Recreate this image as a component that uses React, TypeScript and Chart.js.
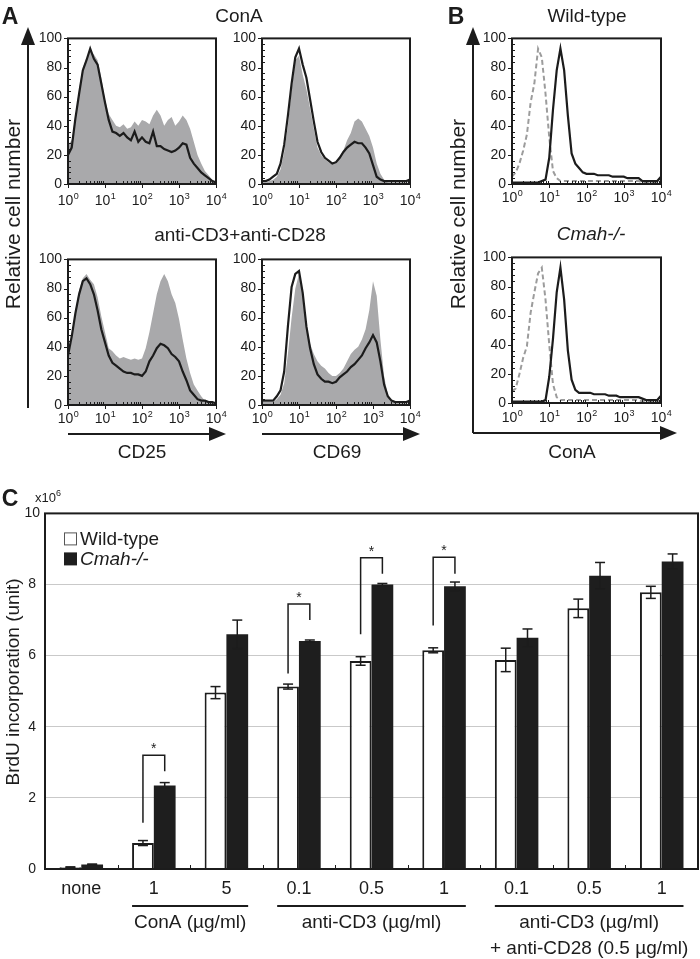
import React, { useEffect, useRef } from 'react';
import { Chart, registerables } from 'chart.js';

Chart.register(...registerables);

const FONT = '"Liberation Sans", Arial, Helvetica, sans-serif';
const INK = '#1c1c1c';
const GRAY_FILL = '#a9a9ab';
const GRAY_DASH = '#9c9c9c';

// ---------- Histogram data (x = log10 fluorescence, 0.1-decade bins) ----------
const LOG_BINS = [0, 0.1, 0.2, 0.3, 0.4, 0.5, 0.6, 0.7, 0.8, 0.9, 1, 1.1, 1.2, 1.3, 1.4, 1.5, 1.6, 1.7, 1.8, 1.9, 2, 2.1, 2.2, 2.3, 2.4, 2.5, 2.6, 2.7, 2.8, 2.9, 3, 3.1, 3.2, 3.3, 3.4, 3.5, 3.6, 3.7, 3.8, 3.9, 4];
const DECADE_TICKS = [0, 1, 2, 3, 4];
const DECADE_EXP = ['0', '1', '2', '3', '4'];
const HIST_Y_TICKS = [0, 20, 40, 60, 80, 100];

// Panel A, ConA, CD25
const A_CONA_CD25_WT = [27, 30, 47, 65, 80, 86, 92, 89, 85, 73, 58, 48, 44, 40, 39, 41, 38, 39, 43, 40, 44, 43, 41, 47, 51, 47, 40, 44, 46, 40, 43, 47, 44, 38, 29, 20, 14, 9, 6, 3, 1];
const A_CONA_CD25_KO = [20, 25, 45, 62, 78, 85, 93, 86, 82, 69, 56, 44, 36, 35, 33, 35, 32, 30, 36, 29, 32, 29, 28, 36, 26, 26, 24, 23, 22, 23, 25, 28, 27, 18, 14, 11, 8, 6, 4, 2, 1];
// Panel A, ConA, CD69
const A_CONA_CD69_WT = [1, 1, 2, 3, 5, 10, 22, 40, 65, 85, 88, 75, 65, 52, 38, 25, 20, 17, 15, 14, 15, 19, 23, 30, 35, 43, 45, 43, 38, 33, 25, 14, 7, 3, 1, 1, 1, 1, 1, 1, 1];
const A_CONA_CD69_KO = [2, 2, 3, 5, 7, 14, 27, 47, 69, 87, 93, 82, 73, 58, 43, 29, 22, 18, 16, 14, 15, 18, 22, 25, 27, 29, 28, 28, 25, 21, 13, 5, 3, 2, 2, 2, 2, 2, 2, 2, 3];
// Panel A, anti-CD3+anti-CD28, CD25
const A_CD3_CD25_WT = [32, 45, 65, 79, 87, 90, 86, 83, 74, 61, 50, 39, 37, 34, 32, 33, 32, 31, 32, 31, 32, 39, 50, 63, 76, 85, 90, 85, 76, 70, 59, 45, 32, 22, 14, 10, 6, 3, 2, 2, 1];
const A_CD3_CD25_KO = [34, 47, 63, 76, 85, 87, 83, 76, 65, 52, 43, 34, 29, 27, 25, 23, 22, 22, 21, 21, 20, 23, 30, 34, 39, 42, 41, 39, 35, 33, 30, 23, 17, 10, 7, 4, 3, 3, 2, 2, 1];
// Panel A, anti-CD3+anti-CD28, CD69
const A_CD3_CD69_WT = [2, 2, 2, 2, 4, 7, 15, 35, 60, 80, 90, 75, 55, 42, 35, 30, 27, 25, 22, 20, 20, 22, 25, 30, 35, 38, 40, 45, 52, 65, 85, 75, 45, 20, 7, 3, 1, 1, 1, 1, 1];
const A_CD3_CD69_KO = [3, 3, 3, 3, 6, 10, 23, 54, 81, 90, 92, 77, 54, 39, 28, 21, 18, 16, 16, 15, 16, 19, 21, 23, 26, 28, 31, 34, 39, 43, 48, 43, 30, 14, 6, 3, 2, 2, 2, 2, 3];
// Panel B, ConA binding
const B_WT_CTRL = [5, 8, 14, 23, 34, 56, 69, 93, 87, 62, 32, 9, 4, 2, 2, 2, 2, 2, 2, 2, 2, 2, 2, 2, 2, 2, 2, 2, 2, 2, 2, 2, 2, 2, 2, 1, 1, 1, 1, 1, 1];
const B_WT_CONA = [1, 1, 1, 1, 1, 1, 1, 1, 2, 3, 18, 51, 78, 93, 78, 47, 21, 14, 11, 8, 7, 7, 7, 6, 6, 6, 6, 5, 5, 5, 5, 4, 4, 4, 4, 2, 2, 2, 2, 2, 5];
const B_KO_CTRL = [8, 10, 20, 31, 39, 62, 76, 89, 93, 71, 40, 13, 4, 2, 2, 2, 2, 2, 2, 2, 2, 2, 2, 2, 2, 2, 2, 2, 2, 2, 2, 2, 2, 2, 2, 1, 1, 1, 1, 1, 1];
const B_KO_CONA = [1, 1, 1, 1, 1, 1, 1, 1, 1, 2, 18, 44, 76, 93, 71, 36, 16, 9, 7, 7, 7, 7, 6, 6, 6, 6, 5, 5, 5, 4, 4, 4, 4, 4, 4, 3, 2, 2, 2, 2, 5];

// ---------- Bar chart data (panel C) ----------
const CATEGORIES = ['none', '1', '5', '0.1', '0.5', '1', '0.1', '0.5', '1'];
const WT_VALUES = [0.05, 0.73, 4.96, 5.13, 5.85, 6.15, 5.88, 7.33, 7.78];
const WT_ERRORS = [0.01, 0.07, 0.17, 0.07, 0.12, 0.07, 0.33, 0.26, 0.17];
const KO_VALUES = [0.13, 2.35, 6.6, 6.41, 8.0, 7.95, 6.5, 8.25, 8.65];
const KO_ERRORS = [0.01, 0.08, 0.4, 0.03, 0.03, 0.12, 0.25, 0.37, 0.21];
const C_Y_TICKS = [0, 2, 4, 6, 8, 10];
// significance brackets: category index, left foot, top, right foot (data units)
const SIG_INDEX = [1, 3, 4, 5];
const SIG_LEFT = [1.3, 5.5, 6.6, 6.85];
const SIG_TOP = [3.2, 7.45, 8.75, 8.77];
const SIG_RIGHT = [2.75, 7.0, 8.3, 8.3];
const GROUP_LABELS = [['ConA (µg/ml)'], ['anti-CD3 (µg/ml)'], ['anti-CD3 (µg/ml)', '+ anti-CD28 (0.5 µg/ml)']];
const GROUP_FROM = [1, 3, 6];
const GROUP_TO = [2, 5, 8];

// ---------- layout ----------
const AX_W = 48;
const PAD_T = 10;
const PAD_R = 16;
const AX_H = 32;

type Panel = { left: number; top: number; w: number; h: number; line: number[]; back: number[]; dashed: boolean; labelDy: number };
const PANELS: Panel[] = [
  { left: 68, top: 34, w: 148, h: 150, line: A_CONA_CD25_KO, back: A_CONA_CD25_WT, dashed: false, labelDy: 21 },
  { left: 262, top: 34, w: 148, h: 150, line: A_CONA_CD69_KO, back: A_CONA_CD69_WT, dashed: false, labelDy: 21 },
  { left: 68, top: 255, w: 148, h: 150, line: A_CD3_CD25_KO, back: A_CD3_CD25_WT, dashed: false, labelDy: 18 },
  { left: 262, top: 255, w: 148, h: 150, line: A_CD3_CD69_KO, back: A_CD3_CD69_WT, dashed: false, labelDy: 18 },
  { left: 512, top: 34, w: 149, h: 150, line: B_WT_CONA, back: B_WT_CTRL, dashed: true, labelDy: 18 },
  { left: 512, top: 253, w: 149, h: 150, line: B_KO_CONA, back: B_KO_CTRL, dashed: true, labelDy: 19 },
];

const C_BOX = { left: 0, top: 500, w: 700, h: 459 };

function seg(ctx: CanvasRenderingContext2D, x1: number, y1: number, x2: number, y2: number) {
  ctx.beginPath();
  ctx.moveTo(x1, y1);
  ctx.lineTo(x2, y2);
  ctx.stroke();
}

const histFrame = {
  id: 'histFrame',
  afterDraw(chart: any, _args: any, opts: any) {
    const { ctx, chartArea: a, scales } = chart;
    const x = scales.x, y = scales.y;
    ctx.save();
    ctx.strokeStyle = INK;
    ctx.lineWidth = 2;
    ctx.strokeRect(a.left, a.top, a.right - a.left, a.bottom - a.top);
    ctx.lineWidth = 1;
    HIST_Y_TICKS.forEach((v) => {
      const py = Math.round(y.getPixelForValue(v)) + 0.5;
      seg(ctx, a.left - 4, py, a.left, py);
    });
    for (let v = 0; v <= 100; v += 4) {
      if (v % 20 === 0) continue;
      const py = Math.round(y.getPixelForValue(v)) + 0.5;
      seg(ctx, a.left, py, a.left + 3, py);
    }
    DECADE_TICKS.forEach((d) => {
      const px = Math.round(x.getPixelForValue(d)) + 0.5;
      seg(ctx, px, a.bottom, px, a.bottom + 4);
    });
    for (let d = 0; d < 4; d++) {
      for (let k = 2; k <= 9; k++) {
        const px = Math.round(x.getPixelForValue(d + Math.log10(k))) + 0.5;
        seg(ctx, px, a.bottom, px, a.bottom - 3);
      }
    }
    ctx.fillStyle = INK;
    ctx.textBaseline = 'alphabetic';
    ctx.textAlign = 'left';
    DECADE_TICKS.forEach((d, i) => {
      const px = x.getPixelForValue(d);
      ctx.font = `14px ${FONT}`;
      const wb = ctx.measureText('10').width;
      ctx.font = `9px ${FONT}`;
      const we = ctx.measureText(DECADE_EXP[i]).width;
      const sx = px - (wb + we) / 2;
      const by = a.bottom + opts.labelDy;
      ctx.font = `14px ${FONT}`;
      ctx.fillText('10', sx, by);
      ctx.font = `9px ${FONT}`;
      ctx.fillText(DECADE_EXP[i], sx + wb + 0.5, by - 6);
    });
    ctx.restore();
  },
};

function histChart(canvas: HTMLCanvasElement, p: Panel) {
  const pts = (arr: number[]) => arr.map((v, i) => ({ x: LOG_BINS[i], y: v }));
  const datasets: any[] = [
    { data: pts(p.line), borderColor: INK, borderWidth: 2.2, fill: false, order: 0, pointRadius: 0 },
  ];
  if (p.dashed) {
    datasets.push({ data: pts(p.back), borderColor: GRAY_DASH, borderWidth: 2, borderDash: [5, 3], fill: false, order: 1, pointRadius: 0 });
  } else {
    datasets.push({ data: pts(p.back), borderWidth: 0, borderColor: 'rgba(0,0,0,0)', backgroundColor: GRAY_FILL, fill: 'origin', order: 1, pointRadius: 0 });
  }
  return new Chart(canvas, {
    type: 'line',
    data: { datasets },
    options: {
      responsive: false,
      maintainAspectRatio: false,
      animation: false,
      devicePixelRatio: 1,
      layout: { padding: { top: PAD_T, right: PAD_R, left: 0, bottom: 0 } },
      elements: { line: { tension: 0 }, point: { radius: 0 } },
      plugins: { legend: { display: false }, tooltip: { enabled: false }, histFrame: { labelDy: p.labelDy } } as any,
      scales: {
        x: {
          type: 'linear', min: 0, max: 4,
          grid: { display: false, drawTicks: false },
          border: { display: false },
          ticks: { display: false },
          afterFit: (s: any) => { s.height = AX_H; },
        },
        y: {
          type: 'linear', min: 0, max: 100,
          grid: { display: false, drawTicks: false },
          border: { display: false },
          ticks: { stepSize: 20, color: INK, padding: 6, font: { family: FONT, size: 14 } },
          afterFit: (s: any) => { s.width = AX_W; },
        },
      },
    } as any,
    plugins: [histFrame],
  });
}

const barDecor = {
  id: 'barDecor',
  afterDatasetsDraw(chart: any) {
    const { ctx, scales } = chart;
    const y = scales.y;
    const m0 = chart.getDatasetMeta(0);
    const m1 = chart.getDatasetMeta(1);
    ctx.save();
    ctx.strokeStyle = INK;
    ctx.lineWidth = 1.5;
    const err = (bx: number, v: number, e: number) => {
      const t = y.getPixelForValue(v + e);
      const b = y.getPixelForValue(v - e);
      seg(ctx, bx, t, bx, b);
      seg(ctx, bx - 5, t, bx + 5, t);
      seg(ctx, bx - 5, b, bx + 5, b);
    };
    WT_VALUES.forEach((v, i) => err(m0.data[i].x, v, WT_ERRORS[i]));
    KO_VALUES.forEach((v, i) => err(m1.data[i].x, v, KO_ERRORS[i]));
    ctx.restore();
  },
  afterDraw(chart: any) {
    const { ctx, chartArea: a, scales } = chart;
    const x = scales.x, y = scales.y;
    const m0 = chart.getDatasetMeta(0);
    const m1 = chart.getDatasetMeta(1);
    ctx.save();
    ctx.strokeStyle = INK;
    ctx.fillStyle = INK;
    // frame
    ctx.lineWidth = 2;
    ctx.strokeRect(a.left, a.top, a.right - a.left, a.bottom - a.top);
    // inner ticks at category boundaries
    ctx.lineWidth = 1;
    for (let i = 1; i < CATEGORIES.length; i++) {
      const bx = Math.round((x.getPixelForValue(i - 1) + x.getPixelForValue(i)) / 2) + 0.5;
      seg(ctx, bx, a.bottom, bx, a.bottom - 4);
    }
    // significance brackets
    ctx.lineWidth = 1.5;
    SIG_INDEX.forEach((ci, k) => {
      const lx = m0.data[ci].x;
      const rx = m1.data[ci].x;
      const ty = y.getPixelForValue(SIG_TOP[k]);
      ctx.beginPath();
      ctx.moveTo(lx, y.getPixelForValue(SIG_LEFT[k]));
      ctx.lineTo(lx, ty);
      ctx.lineTo(rx, ty);
      ctx.lineTo(rx, y.getPixelForValue(SIG_RIGHT[k]));
      ctx.stroke();
      ctx.font = `14px ${FONT}`;
      ctx.textAlign = 'center';
      ctx.textBaseline = 'middle';
      ctx.fillText('*', (lx + rx) / 2, ty - 6);
    });
    // legend
    const lx = a.left + 19;
    ctx.lineWidth = 1;
    ctx.fillStyle = '#fff';
    ctx.fillRect(lx, a.top + 19, 13, 13);
    ctx.strokeStyle = '#555';
    ctx.strokeRect(lx + 0.5, a.top + 19.5, 12, 12);
    ctx.fillStyle = '#1e1e1e';
    ctx.fillRect(lx, a.top + 39, 13, 13);
    ctx.fillStyle = INK;
    ctx.textAlign = 'left';
    ctx.textBaseline = 'middle';
    ctx.font = `19px ${FONT}`;
    ctx.fillText('Wild-type', lx + 16, a.top + 26);
    ctx.font = `italic 19px ${FONT}`;
    ctx.fillText('Cmah-/-', lx + 16, a.top + 46);
    // group lines and labels
    ctx.strokeStyle = INK;
    ctx.lineWidth = 2;
    ctx.font = `19px ${FONT}`;
    ctx.textAlign = 'center';
    GROUP_LABELS.forEach((lines, g) => {
      const first = m0.data[GROUP_FROM[g]];
      const last = m1.data[GROUP_TO[g]];
      const x1 = first.x - first.width / 2;
      const x2 = last.x + last.width / 2;
      seg(ctx, x1, a.bottom + 37, x2, a.bottom + 37);
      lines.forEach((t, j) => ctx.fillText(t, (x1 + x2) / 2, a.bottom + 54 + j * 26));
    });
    ctx.restore();
  },
};

function barChart(canvas: HTMLCanvasElement) {
  return new Chart(canvas, {
    type: 'bar',
    data: {
      labels: CATEGORIES,
      datasets: [
        { label: 'Wild-type', data: WT_VALUES, backgroundColor: '#ffffff', borderColor: INK, borderWidth: 2, categoryPercentage: 0.6, barPercentage: 1 },
        { label: 'Cmah-/-', data: KO_VALUES, backgroundColor: '#1e1e1e', borderColor: '#1e1e1e', borderWidth: 0, categoryPercentage: 0.6, barPercentage: 1 },
      ],
    },
    options: {
      responsive: false,
      maintainAspectRatio: false,
      animation: false,
      devicePixelRatio: 1,
      layout: { padding: { top: 12, right: 2, left: 0, bottom: 0 } },
      plugins: { legend: { display: false }, tooltip: { enabled: false } },
      scales: {
        x: {
          grid: { display: false, drawTicks: false },
          border: { display: false },
          ticks: { color: INK, padding: 9, font: { family: FONT, size: 18 }, autoSkip: false, maxRotation: 0 },
          afterFit: (s: any) => { s.height = 90; },
        },
        y: {
          min: 0, max: 10,
          afterBuildTicks: (s: any) => { s.ticks = C_Y_TICKS.map((v) => ({ value: v })); },
          grid: { color: '#c9c9c9', lineWidth: 1, drawTicks: false },
          border: { display: false },
          ticks: { color: INK, padding: 5, crossAlign: 'center', font: { family: FONT, size: 14 } },
          afterFit: (s: any) => { s.width = 45; },
        },
      },
    } as any,
    plugins: [barDecor],
  });
}

const Txt = ({ x, y, size = 19, bold = false, italic = false, rot = false, children }: any) => (
  <div
    style={{
      position: 'absolute', left: x, top: y,
      transform: `translate(-50%, -50%)${rot ? ' rotate(-90deg)' : ''}`,
      fontSize: size, fontWeight: bold ? 700 : 400, fontStyle: italic ? 'italic' : 'normal',
      whiteSpace: 'nowrap', lineHeight: 1, color: INK,
    }}
  >
    {children}
  </div>
);

export default function App() {
  const histRefs = useRef<(HTMLCanvasElement | null)[]>([]);
  const barRef = useRef<HTMLCanvasElement | null>(null);

  useEffect(() => {
    const charts: Chart[] = [];
    PANELS.forEach((p, i) => {
      const c = histRefs.current[i];
      if (c) charts.push(histChart(c, p));
    });
    if (barRef.current) charts.push(barChart(barRef.current));
    return () => charts.forEach((c) => c.destroy());
  }, []);

  return (
    <div style={{ position: 'absolute', left: 0, top: 0, width: 700, height: 959, background: '#fff', overflow: 'hidden', fontFamily: FONT }}>
      {PANELS.map((p, i) => {
        const w = AX_W + p.w + PAD_R;
        const h = PAD_T + p.h + AX_H;
        return (
          <canvas
            key={i}
            ref={(el) => { histRefs.current[i] = el; }}
            width={w}
            height={h}
            style={{ position: 'absolute', left: p.left - AX_W, top: p.top - PAD_T, width: w, height: h }}
          />
        );
      })}
      <canvas
        ref={barRef}
        width={C_BOX.w}
        height={C_BOX.h}
        style={{ position: 'absolute', left: C_BOX.left, top: C_BOX.top, width: C_BOX.w, height: C_BOX.h }}
      />
      <svg width={700} height={959} style={{ position: 'absolute', left: 0, top: 0, pointerEvents: 'none' }}>
        <g stroke={INK} strokeWidth={2} fill="none">
          <line x1={28} y1={408} x2={28} y2={42} />
          <line x1={68} y1={434} x2={212} y2={434} />
          <line x1={262} y1={434} x2={406} y2={434} />
          <line x1={473} y1={433} x2={473} y2={42} />
          <line x1={473} y1={433} x2={662} y2={433} />
        </g>
        <g fill={INK}>
          <polygon points="28,27 21,45 35,45" />
          <polygon points="226,434 209,427 209,441" />
          <polygon points="420,434 403,427 403,441" />
          <polygon points="473,27 466,45 480,45" />
          <polygon points="677,433 660,426 660,440" />
        </g>
      </svg>
      <Txt x={10} y={16} size={23} bold>A</Txt>
      <Txt x={456} y={16} size={23} bold>B</Txt>
      <Txt x={10} y={498} size={23} bold>C</Txt>
      <Txt x={239} y={15}>ConA</Txt>
      <Txt x={240} y={234}>anti-CD3+anti-CD28</Txt>
      <Txt x={587} y={15}>Wild-type</Txt>
      <Txt x={591} y={233} italic>Cmah-/-</Txt>
      <Txt x={12} y={214} size={21} rot>Relative cell number</Txt>
      <Txt x={457} y={214} size={21} rot>Relative cell number</Txt>
      <Txt x={142} y={451}>CD25</Txt>
      <Txt x={337} y={451}>CD69</Txt>
      <Txt x={572} y={451}>ConA</Txt>
      <Txt x={48} y={497} size={13}>x10<sup style={{ fontSize: 9, verticalAlign: 'super', lineHeight: 0 }}>6</sup></Txt>
      <Txt x={12} y={682} size={19} rot>BrdU incorporation (unit)</Txt>
    </div>
  );
}
